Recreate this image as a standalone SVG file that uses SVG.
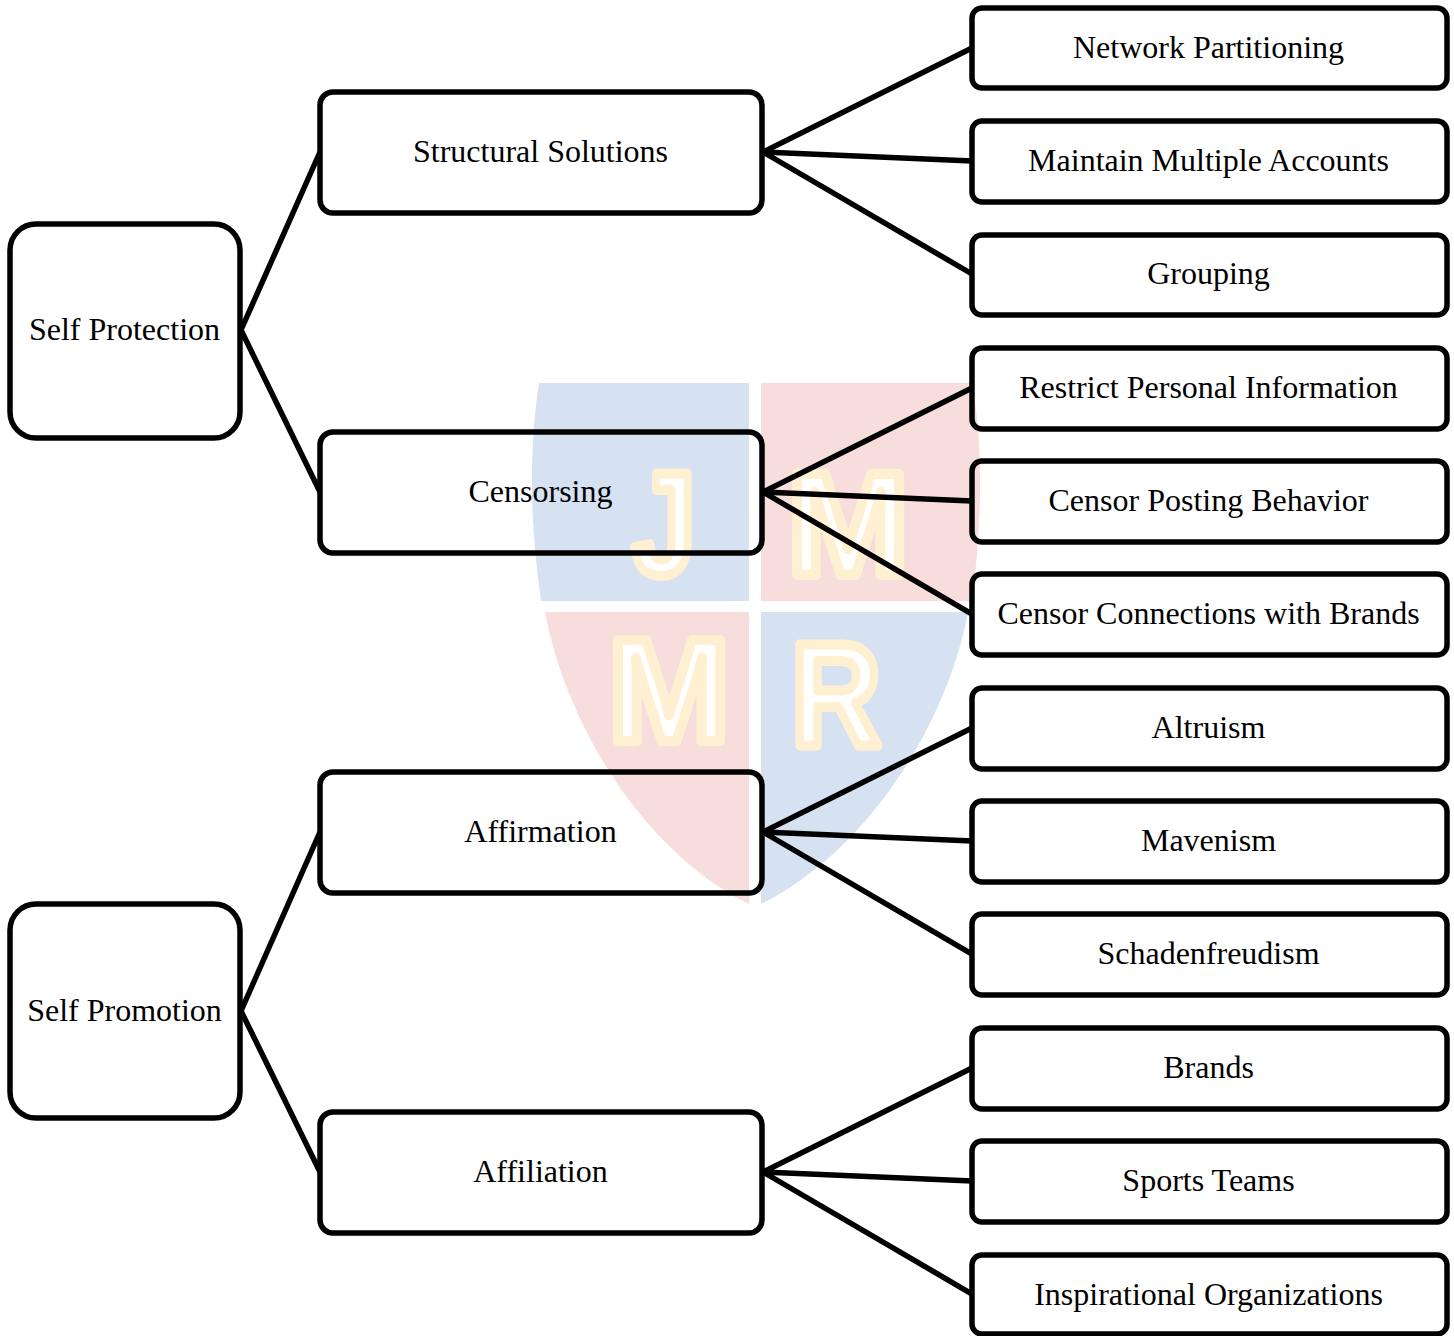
<svg xmlns="http://www.w3.org/2000/svg" width="1454" height="1336" viewBox="0 0 1454 1336">
<defs>
<style>
.box{fill:none;stroke:#000;stroke-width:5.5}
.lab{font-family:"Liberation Serif","Times New Roman",serif;font-size:32px;fill:#000;text-anchor:middle}
.con{stroke:#000;stroke-width:5.5;fill:none}
.wm{font-family:"Liberation Sans",Arial,sans-serif;font-weight:700;font-size:146px;fill:#fff;stroke:#fff0d2;stroke-width:10;stroke-linejoin:round;text-anchor:middle}
</style>
</defs>
<rect width="1454" height="1336" fill="#fff"/>
<g id="watermark">
<path d="M539 383H749V601H541Q531 530 532 470Q533 420 539 383Z" fill="#d6e1f1"/>
<path d="M761 383H972Q979 420 980 470Q981 530 972 601H761Z" fill="#f8dddd"/>
<path d="M545 612H749V904C640 850 565 720 545 612Z" fill="#f8dddd"/>
<path d="M761 612H968C948 720 870 850 761 904Z" fill="#d6e1f1"/>
<text class="wm" transform="translate(664 575) scale(.78 1)">J</text>
<text class="wm" x="848" y="575">M</text>
<text class="wm" x="669" y="741">M</text>
<text class="wm" transform="translate(836 745) scale(.85 1)">R</text>
</g>
<g id="connectors">
<path class="con" d="M241 330L320 152M241 330L320 492M241 1011L320 832M241 1011L320 1172"/>
<path class="con" d="M763 152L972 48M763 152L972 161M763 152L972 274"/>
<path class="con" d="M763 492L972 388M763 492L972 501M763 492L972 614"/>
<path class="con" d="M763 832L972 728M763 832L972 841M763 832L972 954"/>
<path class="con" d="M763 1172L972 1068M763 1172L972 1181M763 1172L972 1294"/>
</g>
<g id="n-self-protection"><rect class="box" x="10" y="224" width="230" height="214" rx="26"/><text class="lab" x="124.5" y="340">Self Protection</text></g>
<g id="n-self-promotion"><rect class="box" x="10" y="904" width="230" height="214" rx="26"/><text class="lab" x="124.5" y="1021">Self Promotion</text></g>
<g id="n-structural"><rect class="box" x="320" y="92" width="442" height="121" rx="13"/><text class="lab" x="540.5" y="162">Structural Solutions</text></g>
<g id="n-censorsing"><rect class="box" x="320" y="432" width="442" height="121" rx="13"/><text class="lab" x="540.5" y="502">Censorsing</text></g>
<g id="n-affirmation"><rect class="box" x="320" y="772" width="442" height="121" rx="13"/><text class="lab" x="540.5" y="842">Affirmation</text></g>
<g id="n-affiliation"><rect class="box" x="320" y="1112" width="442" height="121" rx="13"/><text class="lab" x="540.5" y="1182">Affiliation</text></g>
<g id="n-1"><rect class="box" x="972" y="8" width="475" height="80" rx="10"/><text class="lab" x="1208.5" y="58">Network Partitioning</text></g>
<g id="n-2"><rect class="box" x="972" y="121" width="475" height="81" rx="10"/><text class="lab" x="1208.5" y="171">Maintain Multiple Accounts</text></g>
<g id="n-3"><rect class="box" x="972" y="235" width="475" height="80" rx="10"/><text class="lab" x="1208.5" y="284">Grouping</text></g>
<g id="n-4"><rect class="box" x="972" y="348" width="475" height="81" rx="10"/><text class="lab" x="1208.5" y="398">Restrict Personal Information</text></g>
<g id="n-5"><rect class="box" x="972" y="461" width="475" height="81" rx="10"/><text class="lab" x="1208.5" y="511">Censor Posting Behavior</text></g>
<g id="n-6"><rect class="box" x="972" y="574" width="475" height="81" rx="10"/><text class="lab" x="1208.5" y="624">Censor Connections with Brands</text></g>
<g id="n-7"><rect class="box" x="972" y="688" width="475" height="81" rx="10"/><text class="lab" x="1208.5" y="738">Altruism</text></g>
<g id="n-8"><rect class="box" x="972" y="801" width="475" height="81" rx="10"/><text class="lab" x="1208.5" y="851">Mavenism</text></g>
<g id="n-9"><rect class="box" x="972" y="914" width="475" height="81" rx="10"/><text class="lab" x="1208.5" y="964">Schadenfreudism</text></g>
<g id="n-10"><rect class="box" x="972" y="1028" width="475" height="81" rx="10"/><text class="lab" x="1208.5" y="1078">Brands</text></g>
<g id="n-11"><rect class="box" x="972" y="1141" width="475" height="81" rx="10"/><text class="lab" x="1208.5" y="1191">Sports Teams</text></g>
<g id="n-12"><rect class="box" x="972" y="1255" width="475" height="79" rx="10"/><text class="lab" x="1208.5" y="1305">Inspirational Organizations</text></g>
</svg>
